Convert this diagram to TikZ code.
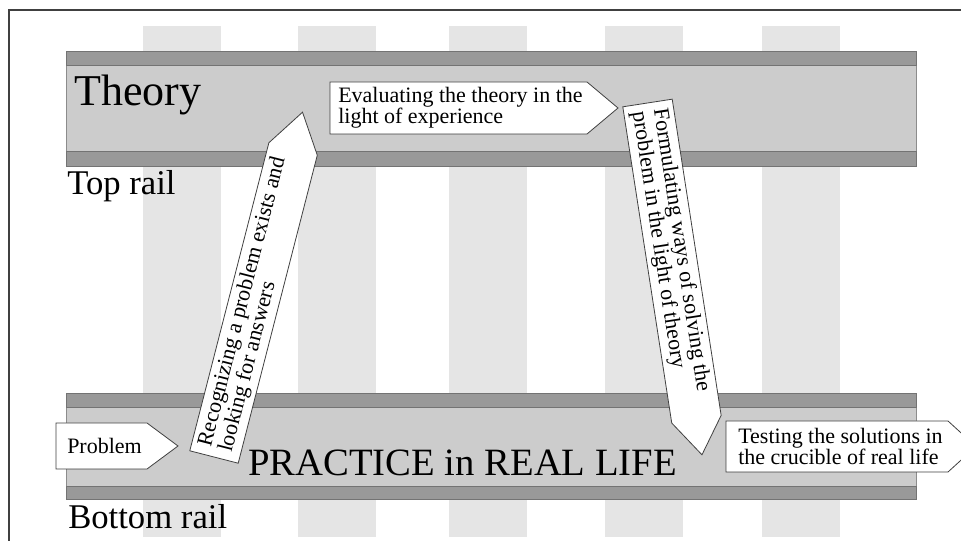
\documentclass[tikz,border=0pt]{standalone}
\usepackage{fontspec}
\setmainfont{Liberation Serif}
\usepackage{tikz}

\tikzset{
  sleeper/.style={fill=black!10},
  railband/.style={fill=black!40, draw=black!55},
  railbed/.style={fill=black!20, draw=black!45},
  tagbox/.style={draw=black!75, fill=white, line width=0.6pt},
  tagtext/.style={inner sep=0pt, align=left, font=\fontsize{16.5}{16}\selectfont},
  railtext/.style={anchor=base west, inner sep=0pt},
}

\begin{document}
\begin{tikzpicture}[x=0.75pt,y=-0.75pt]
\useasboundingbox (0,0) rectangle (961,541);
\clip (0,0) rectangle (961,541);
% sleepers
\foreach \s in {143,298,449,605,762}
  \fill[sleeper] (\s,26) rectangle ++(78,511);
% rails
\draw[railbed] (66,65) rectangle (916,151);
\draw[railband] (66,51) rectangle (916,65);
\draw[railband] (66,151) rectangle (916,166);
\draw[railbed] (66,407) rectangle (916,486);
\draw[railband] (66,393) rectangle (916,407);
\draw[railband] (66,486) rectangle (916,499);
\draw[black!75, line width=1pt] (9,541) -- (9,10) -- (961,10);
\node[railtext, font=\fontsize{33}{33}\selectfont] (theory) at (74,106) {Theory};
\node[railtext, font=\fontsize{26}{26}\selectfont] (toprail) at (67,195) {Top rail};
\node[railtext, font=\fontsize{26}{26}\selectfont] (botrail) at (68,529) {Bottom rail};
\node[railtext, font=\fontsize{29}{29}\selectfont] (practice) at (248,476) {PRACTICE in REAL LIFE};
% horizontal tags
\begin{scope}[shift={(330,108)}]
\draw[tagbox] (0,-26) -- (257,-26) -- (288,0) -- (257,26) -- (0,26) -- cycle;
\node[tagtext, anchor=west] (evaluate) at (8,0) {Evaluating the theory in the\\light of experience};
\end{scope}
\begin{scope}[shift={(56,446)}]
\draw[tagbox] (0,-23) -- (91,-23) -- (122,0) -- (91,23) -- (0,23) -- cycle;
\node[tagtext, anchor=west] (problem) at (11,0) {Problem};
\end{scope}
\begin{scope}[shift={(726,446.5)}]
\draw[tagbox] (0,-25.5) -- (222,-25.5) -- (250,0) -- (222,25.5) -- (0,25.5) -- cycle;
\node[tagtext, anchor=west] (testing) at (12,0) {Testing the solutions in\\the crucible of real life};
\end{scope}
% slanted tags
\begin{scope}[shift={(214,457)}, rotate=75.6]
\draw[tagbox] (0,-25) -- (318,-25) -- (356,0) -- (318,25) -- (0,25) -- cycle;
\node[tagtext, anchor=west, rotate=75.6] (recognize) at (8,0) {Recognizing a problem exists and\\looking for answers};
\end{scope}
\begin{scope}[shift={(647.5,103)}, rotate=-81.2]
\draw[tagbox] (0,-25) -- (320,-25) -- (356,0) -- (320,25) -- (0,25) -- cycle;
\node[tagtext, anchor=west, rotate=-81.2] (formulate) at (7,0) {Formulating ways of solving the\\problem in the light of theory};
\end{scope}
\end{tikzpicture}
\end{document}
